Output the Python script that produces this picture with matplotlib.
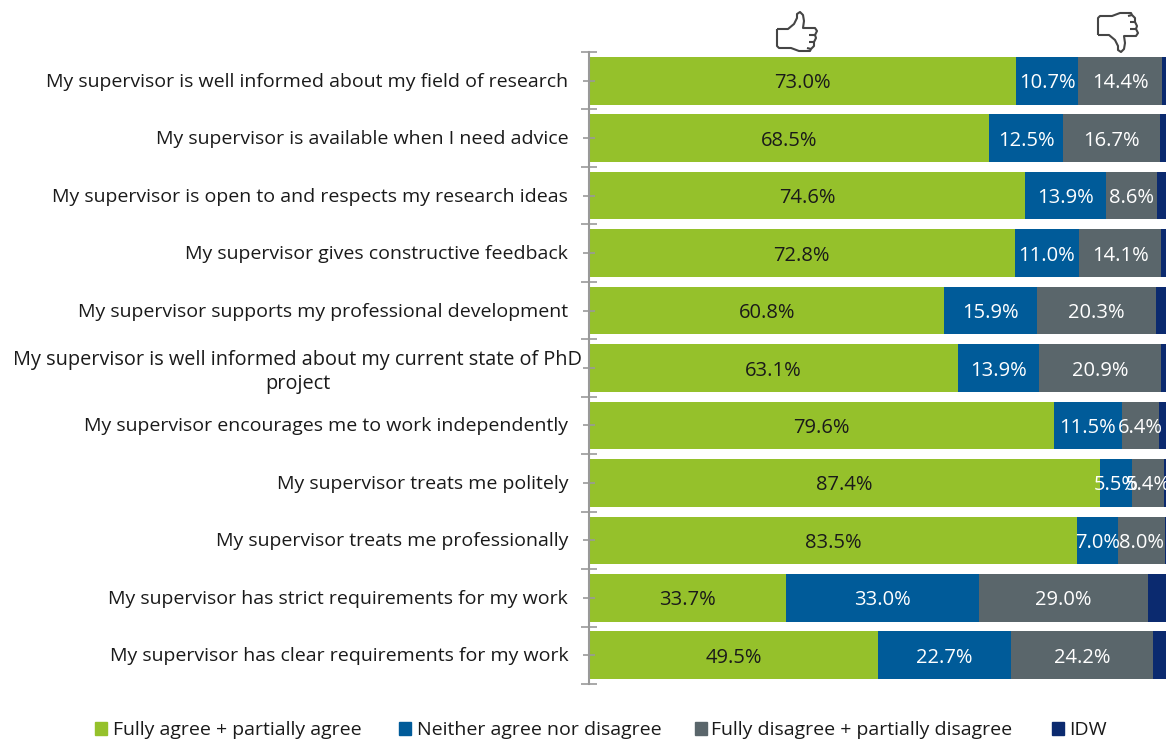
import matplotlib
matplotlib.use("Agg")
import matplotlib.pyplot as plt
import numpy as np
from matplotlib.path import Path
from matplotlib.patches import PathPatch
from matplotlib.transforms import ScaledTranslation

plt.rcParams['font.family'] = ['Open Sans', 'DejaVu Sans']

questions = ["My supervisor is well informed about my field of research",
             "My supervisor is available when I need advice",
             "My supervisor is open to and respects my research ideas",
             "My supervisor gives constructive feedback",
             "My supervisor supports my professional development",
             "My supervisor is well informed about my current state of PhD\nproject",
             "My supervisor encourages me to work independently",
             "My supervisor treats me politely",
             "My supervisor treats me professionally",
             "My supervisor has strict requirements for my work",
             "My supervisor has clear requirements for my work"]
agree = [73.0, 68.5, 74.6, 72.8, 60.8, 63.1, 79.6, 87.4, 83.5, 33.7, 49.5]
neither = [10.7, 12.5, 13.9, 11.0, 15.9, 13.9, 11.5, 5.5, 7.0, 33.0, 22.7]
disagree = [14.4, 16.7, 8.6, 14.1, 20.3, 20.9, 6.4, 5.4, 8.0, 29.0, 24.2]
idw = [1.9, 2.3, 2.9, 2.1, 3.0, 2.1, 2.5, 1.7, 1.5, 4.3, 3.6]

names = ["Fully agree + partially agree", "Neither agree nor disagree",
         "Fully disagree + partially disagree", "IDW"]
colors = ["#95C12B", "#005B99", "#5A666B", "#0B2A6F"]
text_colors = ["#1a1a1a", "white", "white", None]

W, H = 1166, 740
fig = plt.figure(figsize=(W / 100, H / 100), dpi=100)
# axis runs past the right edge of the picture, the last segment gets cut off
ax = fig.add_axes([589 / W, 1 - 684 / H, 584.6 / W, 632 / H])
y = np.arange(len(questions))
left = np.zeros(len(questions))
for vals, name, c, tc in zip([agree, neither, disagree, idw], names, colors, text_colors):
    vals = np.array(vals)
    ax.barh(y, vals, left=left, height=0.83, color=c, label=name)
    if tc:
        for yy, l, v in zip(y, left, vals):
            ax.annotate(f"{v:.1f}%", (l + v / 2, yy), xytext=(0, -1.8), textcoords="offset points",
                        ha="center", va="center", color=tc, fontsize=14.5)
    left += vals

ax.set_xlim(0, 100)
ax.set_ylim(len(questions) - 0.5, -0.5)
ax.set_yticks(y)
ax.set_yticklabels(questions, fontsize=14, color="#1a1a1a", linespacing=1.3)
ax.set_yticks(np.arange(len(questions) + 1) - 0.5, minor=True)
ax.tick_params(axis="y", which="major", direction="inout", length=8, width=1.2, color="#999999", pad=11)
ax.tick_params(axis="y", which="minor", direction="inout", length=11, width=1.2, color="#999999")
ax.xaxis.set_visible(False)
for s in ["top", "right", "bottom"]:
    ax.spines[s].set_visible(False)
ax.spines["left"].set_color("#999999")
ax.spines["left"].set_linewidth(1.5)

# tick labels sit a little higher, the long one is centred and reaches further right
for lab, q in zip(ax.get_yticklabels(), questions):
    dx = 0
    if "\n" in q:
        dx = 14
        lab.set_fontsize(14.3)
    lab.set_multialignment("center")
    lab.set_transform(lab.get_transform() + ScaledTranslation(dx / 100, 1 / 100, fig.dpi_scale_trans))

# legend, placed by hand
box_x = [95, 399, 695, 1052]
text_x = [113, 417, 711, 1069]
for bx, tx, name, c in zip(box_x, text_x, names, colors):
    fig.patches.append(plt.Rectangle((bx / W, 1 - 735 / H), 12 / W, 13 / H, color=c, transform=fig.transFigure))
    fig.text(tx / W, 1 - 730 / H, name, fontsize=14, color="#1a1a1a", va="center")

# thumb icons
thumb = [(0, 17), (11, 17), (17, 12), (20, 6), (20, 2), (23, 0), (26, 3), (27, 9), (26, 16),
         (38, 16), (40, 19), (38, 23), (39, 26), (37, 30), (37, 34), (34, 37), (33, 39),
         (22, 39), (14, 36), (2, 36), (0, 34), (0, 17)]
finger_lines = [[(38, 23), (32, 23)], [(37, 30), (32, 30)], [(34, 37), (30, 36)]]


def draw_icon(x0, y0, flip):
    def conv(p):
        py = 39 - p[1] if flip else p[1]
        return ((x0 + p[0]) / W, 1 - (y0 + py) / H)
    for pts in [thumb] + finger_lines:
        path = Path([conv(p) for p in pts])
        fig.patches.append(PathPatch(path, fill=False, ec="#454545", lw=1.5, joinstyle="round",
                                     transform=fig.transFigure))


draw_icon(777, 12, False)
draw_icon(1098, 13, True)

plt.savefig("out.png", dpi=100)
